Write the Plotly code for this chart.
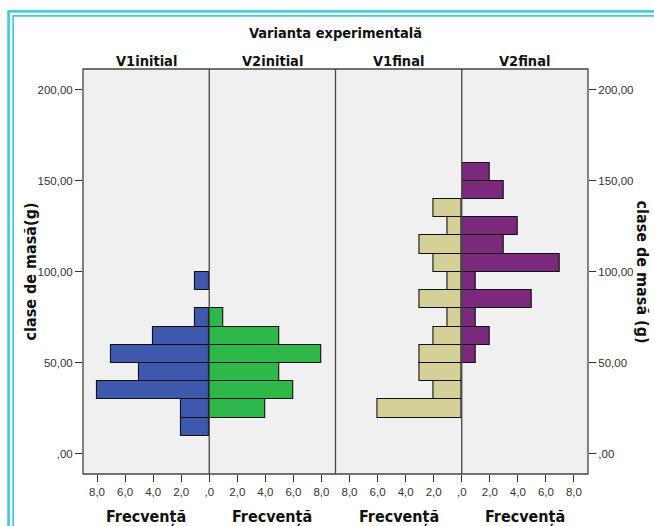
import plotly.graph_objects as go

# ---- data ----
class_low = [10, 20, 30, 40, 50, 60, 70, 80, 90, 100, 110, 120, 130, 140, 150]
v1_initial = [2, 2, 8, 5, 7, 4, 1, 0, 1, 0, 0, 0, 0, 0, 0]
v2_initial = [0, 4, 6, 5, 8, 5, 1, 0, 0, 0, 0, 0, 0, 0, 0]
v1_final = [0, 6, 2, 3, 3, 2, 1, 3, 1, 2, 3, 1, 2, 0, 0]
v2_final = [0, 0, 0, 0, 1, 2, 1, 5, 1, 7, 3, 4, 0, 3, 2]

panel_names = ["V1initial", "V2initial", "V1final", "V2final"]
panel_values = [v1_initial, v2_initial, v1_final, v2_final]
panel_colors = ["#3D58AC", "#2FB84A", "#D5D098", "#7B297C"]

y_tickvals = [0, 50, 100, 150, 200]
y_ticktext = [",00", "50,00", "100,00", "150,00", "200,00"]
x_tickvals = [0, 2, 4, 6, 8]
x_ticktext = [",0", "2,0", "4,0", "6,0", "8,0"]

W, H = 654, 526
L, R, T, B = 83, 66, 69, 52
PW, PH = W - L - R, H - T - B


def px(x):
    return (x - L) / PW


def py(y):
    return (H - B - y) / PH


BOLD = "Liberation Sans Narrow, DejaVu Sans Condensed, Arial Narrow, sans-serif"
REG = "Liberation Sans, Arial, sans-serif"

fig = go.Figure()
for i, (name, vals, col) in enumerate(zip(panel_names, panel_values, panel_colors)):
    ys = [c + 5 for c, v in zip(class_low, vals) if v > 0]
    xs = [v for v in vals if v > 0]
    fig.add_trace(go.Bar(
        x=xs, y=ys, orientation="h", width=10,
        marker=dict(color=col, line=dict(color="#111111", width=1.1)),
        xaxis="x" if i == 0 else f"x{i+1}", yaxis="y",
        name=name, showlegend=False, hoverinfo="x+y",
    ))

yrange = [-11, 211.4]
tickfont = dict(family=REG, size=11.5, color="#333")
layout = dict(
    width=W, height=H,
    margin=dict(l=L, r=R, t=T, b=B, pad=0),
    paper_bgcolor="white", plot_bgcolor="#F0F0F0",
    showlegend=False, bargap=0,
    yaxis=dict(range=yrange, tickvals=y_tickvals, ticktext=y_ticktext,
               ticks="outside", ticklen=7, tickcolor="#333", tickwidth=1,
               showgrid=False, zeroline=False, showline=False, anchor="x",
               tickfont=tickfont),
    yaxis2=dict(range=yrange, tickvals=y_tickvals, ticktext=y_ticktext,
                overlaying="y", side="right", anchor="x4", matches="y",
                ticks="outside", ticklen=7, tickcolor="#333", tickwidth=1,
                showgrid=False, zeroline=False, showline=False,
                tickfont=tickfont),
)
for i in range(4):
    key = "xaxis" if i == 0 else f"xaxis{i+1}"
    reverse = i in (0, 2)
    tv = x_tickvals[1:] if reverse else x_tickvals
    tt = x_ticktext[1:] if reverse else x_ticktext
    layout[key] = dict(
        domain=[i / 4, (i + 1) / 4],
        range=[9, 0] if reverse else [0, 9],
        tickvals=tv, ticktext=tt, anchor="y",
        ticks="outside", ticklen=7, tickcolor="#333", tickwidth=1,
        showgrid=False, zeroline=False, showline=False,
        tickfont=tickfont,
    )
fig.update_layout(**layout)

# an invisible trace to make yaxis2 render
fig.add_trace(go.Scatter(x=[None], y=[None], xaxis="x4", yaxis="y2",
                         showlegend=False, hoverinfo="skip"))

shapes = []
# plot frame and panel separators
shapes.append(dict(type="rect", xref="paper", yref="paper", x0=0, x1=1, y0=0, y1=1,
                   line=dict(color="#444", width=1.3)))
for f in (0.25, 0.5, 0.75):
    shapes.append(dict(type="line", xref="paper", yref="paper", x0=f, x1=f, y0=0, y1=1,
                       line=dict(color="#444", width=1.3)))
# teal double border around the whole chart
shapes.append(dict(type="rect", xref="paper", yref="paper",
                   x0=px(8.6), x1=px(720), y0=py(620), y1=py(11.4),
                   line=dict(color="#43CFCF", width=2.7), layer="above"))
shapes.append(dict(type="rect", xref="paper", yref="paper",
                   x0=px(13.2), x1=px(720), y0=py(620), y1=py(15.9),
                   line=dict(color="#43CFCF", width=1.8), layer="above"))
fig.update_layout(shapes=shapes)

ann = []
ann.append(dict(text="<b>Varianta experimentală</b>", xref="paper", yref="paper",
                x=0.5, y=py(33), xanchor="center", yanchor="middle", showarrow=False,
                font=dict(family=BOLD, size=14.5, color="#111")))
for i, name in enumerate(panel_names):
    ann.append(dict(text=f"<b>{name}</b>", xref="paper", yref="paper",
                    x=(i + 0.5) / 4, y=py(61), xanchor="center", yanchor="middle",
                    showarrow=False, font=dict(family=BOLD, size=14.5, color="#111")))
    ann.append(dict(text="<b>Frecvență</b>", xref="paper", yref="paper",
                    x=(i + 0.5) / 4, y=py(516), xanchor="center", yanchor="middle",
                    showarrow=False, font=dict(family=BOLD, size=16, color="#111")))
ann.append(dict(text="<b>clase de masă(g)</b>", xref="paper", yref="paper",
                x=px(30), y=0.5, xanchor="center", yanchor="middle", textangle=-90,
                showarrow=False, font=dict(family=BOLD, size=16, color="#111")))
ann.append(dict(text="<b>clase de masă (g)</b>", xref="paper", yref="paper",
                x=px(642), y=0.5, xanchor="center", yanchor="middle", textangle=90,
                showarrow=False, font=dict(family=BOLD, size=16, color="#111")))
fig.update_layout(annotations=ann)

fig.write_html("out.html")
